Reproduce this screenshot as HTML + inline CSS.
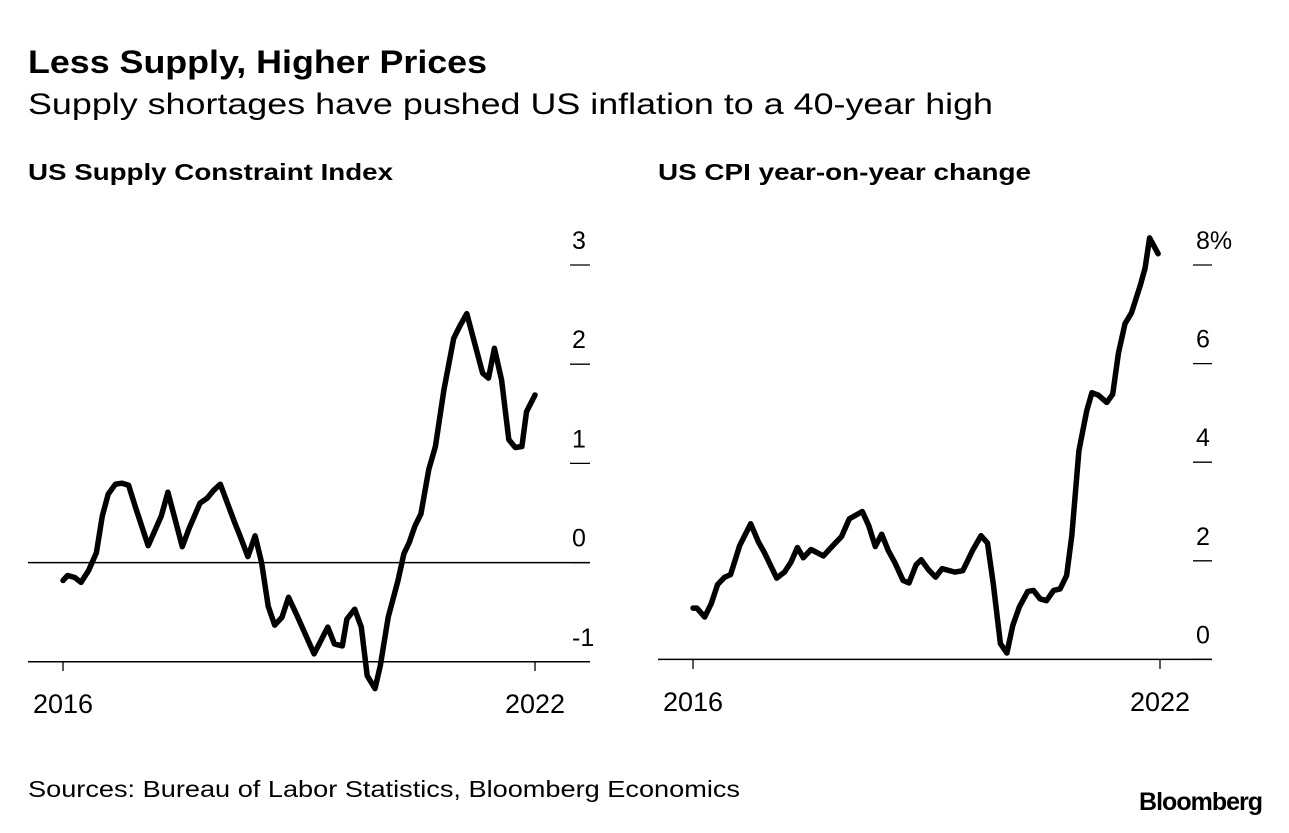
<!DOCTYPE html>
<html><head><meta charset="utf-8"><style>
body{margin:0;background:#fff;width:1289px;height:828px;overflow:hidden;font-family:"Liberation Sans",sans-serif;color:#000}
svg text{font-family:"Liberation Sans",sans-serif}
</style></head><body>
<svg id="c" width="1289" height="828">
<text x="28" y="73" font-size="32" font-weight="bold" textLength="459" lengthAdjust="spacingAndGlyphs">Less Supply, Higher Prices</text>
<text x="28" y="114" font-size="30" textLength="965" lengthAdjust="spacingAndGlyphs">Supply shortages have pushed US inflation to a 40-year high</text>
<text x="28" y="180" font-size="23" font-weight="bold" textLength="365" lengthAdjust="spacingAndGlyphs">US Supply Constraint Index</text>
<text x="658" y="180" font-size="23" font-weight="bold" textLength="373" lengthAdjust="spacingAndGlyphs">US CPI year-on-year change</text>
<text x="28" y="797" font-size="23" textLength="712" lengthAdjust="spacingAndGlyphs">Sources: Bureau of Labor Statistics, Bloomberg Economics</text>
<text x="1262" y="810" font-size="25" font-weight="bold" text-anchor="end" letter-spacing="-1">Bloomberg</text>
<g id="left"></g>
<g id="right"></g>
</svg>
<script>
const NS="http://www.w3.org/2000/svg";
const leftMonths=[0,0.7,1.8,2.75,3.9,5.1,6,6.9,8,9,10,11,13,15,16,18.2,19.2,20.9,22,23,24,26.2,27,28.2,29.3,30.3,31.3,32.3,33.4,34.4,35.6,38.3,40.4,41.4,42.6,43.3,44.5,45.5,46.4,47.6,48.4,49.6,51.1,52,52.8,53.7,54.6,55.8,56.8,58.1,59.6,60.5,61.6,62.8,64,64.9,65.8,66.9,68,69,70,70.7,72];
const leftValues=[-0.18,-0.13,-0.15,-0.2,-0.08,0.1,0.47,0.69,0.79,0.8,0.78,0.57,0.17,0.47,0.71,0.16,0.34,0.6,0.65,0.73,0.79,0.4,0.27,0.06,0.27,0,-0.44,-0.63,-0.55,-0.35,-0.52,-0.92,-0.65,-0.82,-0.84,-0.57,-0.47,-0.65,-1.14,-1.27,-1.04,-0.55,-0.18,0.09,0.2,0.37,0.49,0.94,1.17,1.74,2.26,2.38,2.51,2.21,1.91,1.86,2.16,1.84,1.24,1.16,1.17,1.52,1.69];
const leftTicks=[3,2,1,0,-1];
const rightMonths=[0,0.6,1.8,2.8,3.8,4.9,5.8,7.2,8.9,10.1,11,12.9,14.1,15.1,16.1,17,18.2,20.1,21.8,22.9,24.1,26.1,27.1,28.1,29.1,30.1,31.1,32.4,33.3,34.4,35.2,36.3,37.4,38.4,40.4,41.6,43.1,44.4,45.4,46.3,47.4,48.4,49.3,50.3,51.6,52.5,53.5,54.5,55.6,56.6,57.6,58.4,59.5,60.7,61.5,62.5,63.8,64.7,65.6,66.6,67.6,69,69.7,70.4,71.7];
const rightValues=[1.04,1.04,0.86,1.13,1.52,1.67,1.72,2.31,2.75,2.38,2.17,1.65,1.77,1.97,2.27,2.06,2.23,2.1,2.34,2.49,2.85,3.0,2.71,2.29,2.54,2.21,1.97,1.6,1.55,1.92,2.02,1.82,1.67,1.84,1.77,1.8,2.21,2.51,2.36,1.53,0.32,0.13,0.69,1.06,1.38,1.4,1.23,1.19,1.4,1.43,1.7,2.51,4.23,5.04,5.41,5.36,5.21,5.38,6.22,6.81,7.03,7.6,7.94,8.55,8.23];
const rightTicks=[8,6,4,2,0];
const rightTickLabels=["8%","6","4","2","0"];
const yearLabels=["2016","2022"];

function panel(g,o){
  const X=m=>o.x0+(o.x1-o.x0)*m/72;
  const Y=v=>o.yTop+(o.vTop-v)*o.ppu;
  const el=(t,a)=>{const e=document.createElementNS(NS,t);for(const k in a)e.setAttribute(k,a[k]);g.appendChild(e);return e;};
  o.ticks.forEach((t,i)=>{
    const y=Y(t);
    const d=el('line',{x1:o.tx0,x2:o.tx1,y1:y,y2:y,stroke:'#000','stroke-width':1.3});
    
    
    const tx=el('text',{x:o.lx,y:y-16,'font-size':25,'text-anchor':'start'});
    tx.textContent=o.labels[i];
    
    
  });
  o.refs.forEach(v=>{
    const l=el('line',{x1:o.ax0,x2:o.ax1,y1:Y(v),y2:Y(v),stroke:'#000','stroke-width':1.5});
    
    
  });
  [0,72].forEach((m,i)=>{
    const t=el('line',{x1:X(m),x2:X(m),y1:o.base,y2:o.base+10,stroke:'#000','stroke-width':1.3});
    
    
    const tx=el('text',{x:X(m),y:o.base+52,'font-size':27,'text-anchor':'middle'});
    tx.textContent=yearLabels[i];
    
    
  });
  const p=el('path',{d:o.months.map((m,i)=>(i?'L':'M')+X(m).toFixed(1)+','+Y(o.vals[i]).toFixed(1)).join(''),fill:'none',stroke:'#000','stroke-width':5.5,'stroke-linejoin':'round','stroke-linecap':'round'});
  
  
}
panel(document.getElementById('left'),{x0:63,x1:535,yTop:265,vTop:3,ppu:99.2,ticks:leftTicks,labels:leftTicks.map(String),tx0:570,tx1:590,lx:572,refs:[0,-1],ax0:28,ax1:590,base:661,months:leftMonths,vals:leftValues});
panel(document.getElementById('right'),{x0:693,x1:1160,yTop:265,vTop:8,ppu:49.3,ticks:rightTicks,labels:rightTickLabels,tx0:1193,tx1:1212,lx:1196,refs:[0],ax0:658,ax1:1212,base:659,months:rightMonths,vals:rightValues});
</script>
</body></html>
